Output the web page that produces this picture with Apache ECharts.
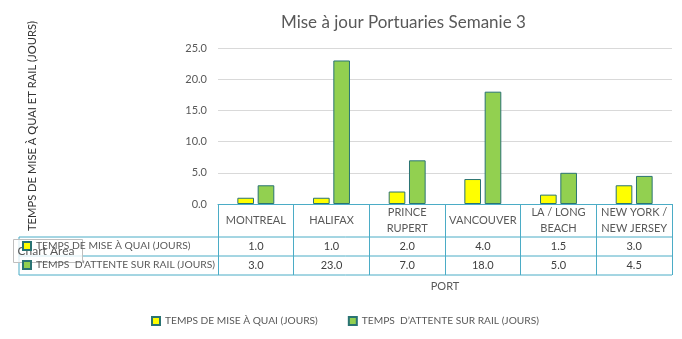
<!DOCTYPE html>
<html>
<head>
<meta charset="utf-8">
<script src="https://cdn.jsdelivr.net/npm/echarts@6/dist/echarts.min.js"></script>
<style>html,body{margin:0;padding:0;background:#fff}#c{width:682px;height:339px}</style>
</head>
<body>
<div id="c"></div>
<script>
const titleText = 'Mise à jour Portuaries Semanie 3';
const yAxisTitle = 'TEMPS DE MISE À QUAI ET RAIL (JOURS)';
const xAxisTitle = 'PORT';
const ports = ['MONTREAL', 'HALIFAX', 'PRINCE\nRUPERT', 'VANCOUVER', 'LA / LONG\nBEACH', 'NEW YORK /\nNEW JERSEY'];
const seriesNames = ['TEMPS DE MISE À QUAI (JOURS)', 'TEMPS  D’ATTENTE SUR RAIL (JOURS)'];
const quaiDays = [1.0, 1.0, 2.0, 4.0, 1.5, 3.0];
const railDays = [3.0, 23.0, 7.0, 18.0, 5.0, 4.5];
const yTicks = [0, 5, 10, 15, 20, 25];

const FONT = 'Lato';
const TABLE_BLUE = '#4BACC6';
const G = {left: 218, right: 10, top: 48, bottom: 135};
const HEADER_H = 33, ROW_H = 19, TABLE_LEFT = 19;
const axisY = 339 - G.bottom;

const chart = echarts.init(document.getElementById('c'), null, {renderer: 'canvas'});

function labelFmt(name, idx) {
  const parts = name.split('\n');
  let s;
  if (parts.length > 1) s = parts.map(p => '{h2|' + p + '}').join('\n');
  else s = '{h1|' + name + '}';
  return s + '\n{v|' + quaiDays[idx].toFixed(1) + '}\n{v|' + railDays[idx].toFixed(1) + '}';
}

const tableLineY = [axisY + HEADER_H, axisY + HEADER_H + ROW_H, axisY + HEADER_H + 2 * ROW_H];
const graphics = tableLineY.map(y => ({
  type: 'line', shape: {x1: TABLE_LEFT, y1: y, x2: 682 - G.right, y2: y},
  style: {stroke: TABLE_BLUE, lineWidth: 1}, silent: true
}));
graphics.push({
  type: 'line', shape: {x1: TABLE_LEFT, y1: tableLineY[0], x2: TABLE_LEFT, y2: tableLineY[2]},
  style: {stroke: TABLE_BLUE, lineWidth: 1}, silent: true
});
graphics.push({
  type: 'group', left: 13, top: 239, z: 100,
  children: [
    {type: 'rect', shape: {x: 0, y: 0, width: 69, height: 23},
     style: {fill: 'rgba(255,255,255,0.78)', stroke: '#BFBFBF', lineWidth: 1}},
    {type: 'text', x: 4, y: 11.5,
     style: {text: 'Chart Area', fill: '#595959', font: '12px ' + FONT, textVerticalAlign: 'middle'}}
  ]
});

chart.setOption({
  animation: false,
  backgroundColor: '#fff',
  textStyle: {fontFamily: FONT},
  title: {
    text: titleText, left: 276, top: 9,
    textStyle: {fontFamily: FONT, fontSize: 17, fontWeight: 'normal', color: '#595959'}
  },
  grid: {left: G.left, right: G.right, top: G.top, bottom: G.bottom},
  legend: [{
    data: seriesNames, bottom: 8, left: 146, itemWidth: 8, itemHeight: 8, itemGap: 30,
    icon: 'rect', textStyle: {fontFamily: FONT, fontSize: 10.2, color: '#595959'}
  }, {
    data: seriesNames, orient: 'vertical', left: 22, top: axisY + HEADER_H + 2, padding: 0,
    itemWidth: 8, itemHeight: 8, itemGap: 5, icon: 'rect',
    textStyle: {fontFamily: FONT, fontSize: 10.3, color: '#595959', lineHeight: 14}
  }],
  xAxis: {
    type: 'category', data: ports,
    name: xAxisTitle, nameLocation: 'middle', nameGap: 77,
    nameTextStyle: {fontFamily: FONT, fontSize: 11, color: '#595959'},
    axisLine: {lineStyle: {color: TABLE_BLUE, width: 1}},
    axisTick: {show: true, interval: 0, length: HEADER_H + 2 * ROW_H, lineStyle: {color: TABLE_BLUE}},
    axisLabel: {
      interval: 0, margin: 0, formatter: labelFmt, color: '#595959', fontFamily: FONT, fontSize: 11,
      rich: {
        h1: {lineHeight: HEADER_H, fontSize: 11, color: '#595959', fontFamily: FONT},
        h2: {lineHeight: HEADER_H / 2, fontSize: 11, color: '#595959', fontFamily: FONT},
        v: {lineHeight: ROW_H, fontSize: 11, color: '#404040', fontFamily: FONT}
      }
    }
  },
  yAxis: {
    type: 'value', min: yTicks[0], max: yTicks[yTicks.length - 1], interval: yTicks[1] - yTicks[0],
    name: yAxisTitle, nameLocation: 'middle', nameRotate: 90, nameGap: 180,
    nameTextStyle: {fontFamily: FONT, fontSize: 11.2, color: '#333'},
    axisLine: {show: false}, axisTick: {show: false},
    axisLabel: {formatter: v => v.toFixed(1), color: '#595959', fontFamily: FONT, fontSize: 11, margin: 11},
    splitLine: {lineStyle: {color: '#D9D9D9'}}
  },
  series: [{
    name: seriesNames[0], type: 'bar', data: quaiDays, barWidth: '22%', barGap: '22%',
    itemStyle: {color: '#FFFF00', borderColor: '#2A7373', borderWidth: 1}
  }, {
    name: seriesNames[1], type: 'bar', data: railDays, barWidth: '22%',
    itemStyle: {color: '#92D050', borderColor: '#2A7373', borderWidth: 1}
  }],
  graphic: graphics
});
</script>
</body>
</html>
